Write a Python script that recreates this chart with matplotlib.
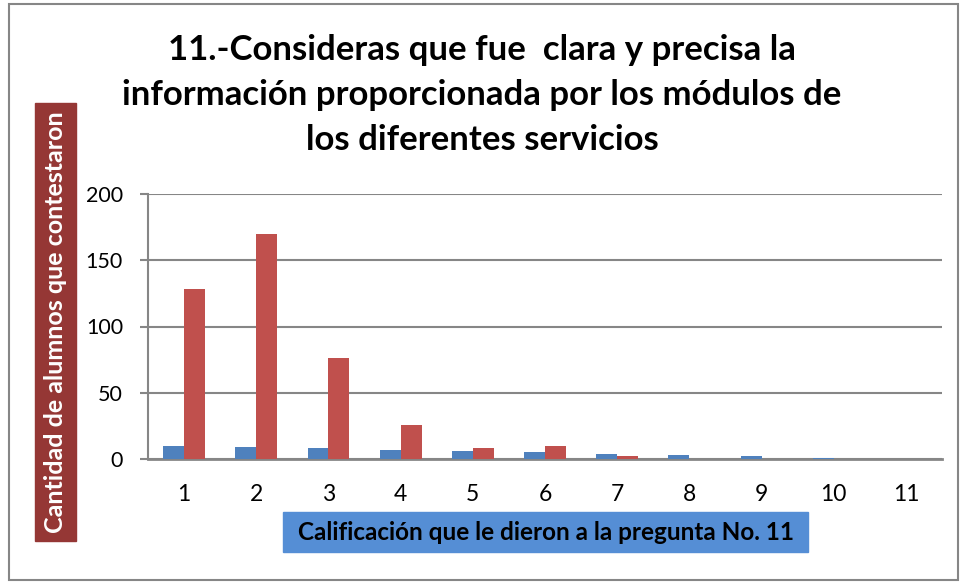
import numpy as np
import matplotlib
matplotlib.use("Agg")
import matplotlib.pyplot as plt
from matplotlib.patches import Rectangle

# data
categorias = ["1", "2", "3", "4", "5", "6", "7", "8", "9", "10", "11"]
serie_azul = [10, 9, 8, 7, 6, 5, 4, 3, 2, 1, 0]
serie_roja = [128, 170, 76, 26, 8, 10, 2, 0, 0, 0, 0]
y_ticks = [0, 50, 100, 150, 200]

titulo = "11.-Consideras que fue  clara y precisa la\ninformación proporcionada por los módulos de\nlos diferentes servicios"
etiqueta_y = "Cantidad de alumnos que contestaron"
etiqueta_x = "Calificación que le dieron a la pregunta No. 11"

plt.rcParams['font.family'] = ['Lato', 'DejaVu Sans']

W, H = 964, 582
fig = plt.figure(figsize=(W / 100, H / 100), dpi=100)

# axes placed in pixel terms of the reference
left, right, top, bottom = 148, 942, 194, 459
ax = fig.add_axes([left / W, 1 - bottom / H, (right - left) / W, (bottom - top) / H])

x = np.arange(len(categorias))
bw = 0.29
ax.bar(x - bw / 2, serie_azul, width=bw, color="#4F81BD", linewidth=0, zorder=3)
ax.bar(x + bw / 2, serie_roja, width=bw, color="#C0504D", linewidth=0, zorder=3)

ax.set_xlim(-0.5, len(categorias) - 0.5)
ax.set_ylim(0, 200)
ax.set_yticks(y_ticks)
ax.set_xticks(x)
ax.set_xticklabels(categorias)
ax.tick_params(axis="x", length=0, pad=18, labelsize=16.5)
ax.tick_params(axis="y", length=6, width=1.5, color="#868686", pad=12, labelsize=15.5)
ax.yaxis.grid(True, color="#868686", linewidth=1.5, zorder=0)
ax.set_axisbelow(True)
for s in ["top", "right"]:
    ax.spines[s].set_visible(False)
ax.spines["left"].set_color("#868686")
ax.spines["left"].set_linewidth(1.5)
ax.spines["bottom"].set_color("#868686")
ax.spines["bottom"].set_linewidth(2)

# title
fig.text(0.5, 1 - 95 / H, titulo, ha="center", va="center", fontsize=25,
         fontweight="bold", linespacing=1.5)

# y label box
fig.patches.append(Rectangle((35 / W, 1 - 541 / H), 41 / W, 438 / H,
                             transform=fig.transFigure, color="#953735", zorder=0))
fig.text(56 / W, 1 - 322 / H, etiqueta_y, rotation=90, ha="center", va="center",
         color="white", fontsize=18, fontweight="bold")

# x label box
fig.patches.append(Rectangle((283 / W, 1 - 552 / H), 525 / W, 40 / H,
                             transform=fig.transFigure, color="#558ED5", zorder=0))
fig.text(545.5 / W, 1 - 532 / H, etiqueta_x, ha="center", va="center",
         color="black", fontsize=17.5, fontweight="bold")

# outer frame
fig.patches.append(Rectangle((9 / W, 1 - 580 / H), 949 / W, 576 / H,
                             transform=fig.transFigure, fill=False,
                             edgecolor="#868686", linewidth=1.5))

fig.savefig("out.png", dpi=100)
